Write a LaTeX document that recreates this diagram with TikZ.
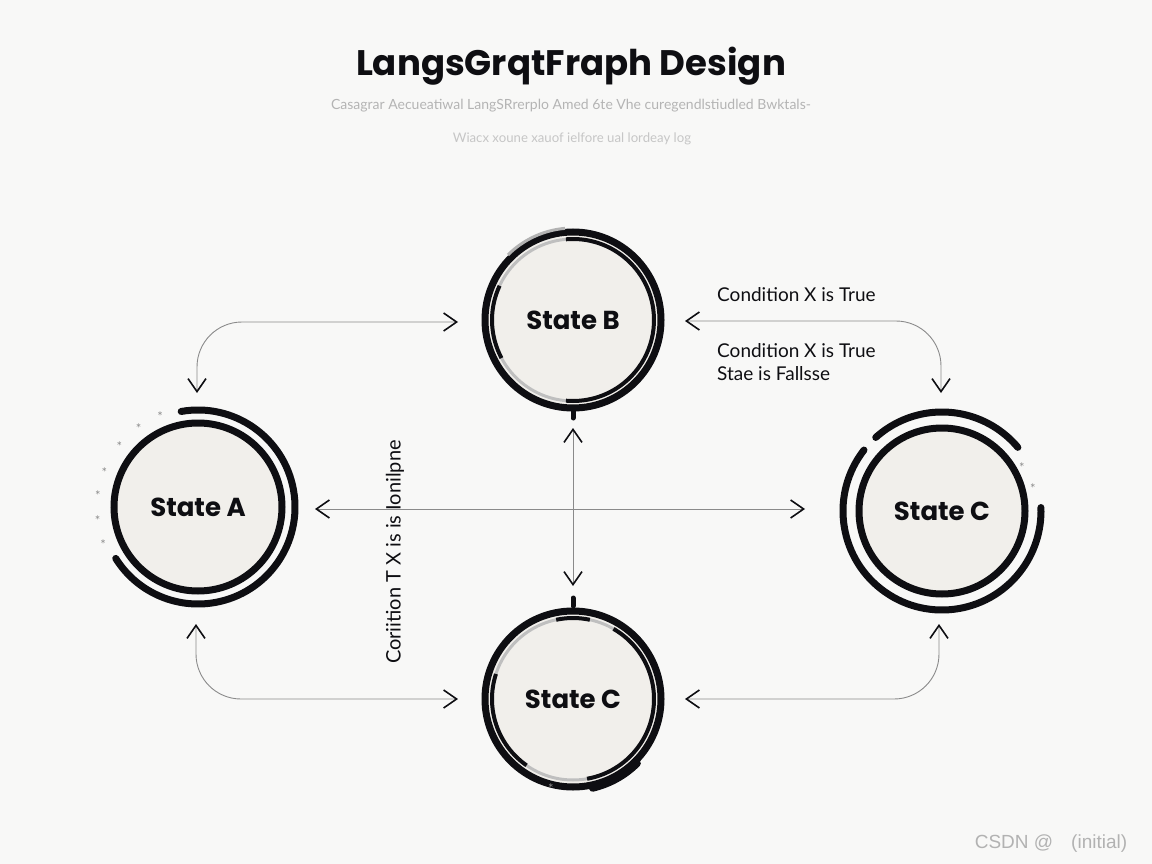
\documentclass[tikz,border=0pt]{standalone}
\usepackage{fontspec}
\setmainfont{Lato}
\newfontfamily\pop{Poppins}
\newfontfamily\lib{Liberation Sans}
\usetikzlibrary{arrows.meta,calc}
\definecolor{bg}{HTML}{F8F8F7}
\definecolor{fillc}{HTML}{F1EFEB}
\definecolor{ink}{HTML}{0E0E12}
\definecolor{conn}{HTML}{8A8A8A}
\definecolor{sub}{HTML}{B4B4B4}
\definecolor{sub2}{HTML}{C6C6C6}
\tikzset{
  statebox/.style={circle, fill=fillc, draw=ink, line width=7pt, minimum size=172pt, inner sep=0pt, font=\pop\bfseries\fontsize{26}{30}\selectfont, text=ink},
  ring/.style={draw=ink, line width=7pt, line cap=round},
  innerarc/.style={draw=ink, line width=4pt},
  greyarc/.style={draw=black!25, line width=3pt},
  conn/.style={draw=conn, line width=0.9pt, rounded corners=45pt,
    {Straight Barb[length=13pt,width=18pt,line width=1.6pt,color=ink]}-{Straight Barb[length=13pt,width=18pt,line width=1.6pt,color=ink]}},
  lbl/.style={font=\fontsize{19}{23}\selectfont, text=ink, inner sep=0pt, anchor=west},
  star/.style={font=\fontsize{13}{13}\selectfont, text=black!45, inner sep=0pt}
}
\begin{document}
\begin{tikzpicture}[x=1pt,y=1pt]
\fill[bg] (0,0) rectangle (1152,-864);
\useasboundingbox (0,0) rectangle (1152,-864);

% title
\node[font=\pop\bfseries\fontsize{35.5}{42}\selectfont, text=ink] (title) at (571,-66) {LangsGrqtFraph Design};
\node[font=\fontsize{14}{17}\selectfont, text=sub] (sub1) at (571,-106) {Casagrar Aecueatiwal LangSRrerplo Amed 6te Vhe curegendlstiudled Bwktals-};
\node[font=\fontsize{13.2}{16}\selectfont, text=sub2] (sub2) at (572,-139) {Wiacx xoune xauof ielfore ual lordeay log};

% State A
\node[statebox, minimum size=168pt] (A) at (198,-507) {State A};
\draw[ring] (198,-507) ++(100:97) arc[start angle=100, end angle=-148, radius=97];
\foreach \a in {112,126,141,158,172,186,200}
  \node[star] at ($(198,-510)+(\a:101)$) {*};

% State B
\node[statebox, minimum size=176pt] (B) at (573,-320) {State B};
\draw[greyarc] (573,-320) circle[radius=81];
\draw[innerarc] (573,-320) ++(95:81) arc[start angle=95, end angle=-95, radius=81];
\draw[innerarc] (573,-320) ++(155:81) arc[start angle=155, end angle=208, radius=81];
\draw[draw=black!30, line width=3pt] (573,-320) ++(135:92) arc[start angle=135, end angle=95, radius=92];
\draw[ink, line width=5pt, line cap=round] (573,-410) -- (573,-418);

% State C (bottom)
\node[statebox, minimum size=176pt] (C2) at (573,-699) {State C};
\draw[greyarc] (573,-699) circle[radius=81];
\draw[innerarc] (573,-699) ++(60:81) arc[start angle=60, end angle=-80, radius=81];
\draw[innerarc] (573,-699) ++(162:81) arc[start angle=162, end angle=235, radius=81];
\draw[innerarc] (573,-699) ++(102:81) arc[start angle=102, end angle=78, radius=81];
\draw[ring] (573,-699) ++(-45:91) arc[start angle=-45, end angle=-77, radius=93];
\draw[ink, line width=5pt, line cap=round] (573,-598) -- (573,-606);
\node[star] at (551,-789) {*};

% State C (right)
\node[statebox, minimum size=166pt] (C1) at (942,-511) {State C};
\draw[ring] (942,-511) ++(142:99) arc[start angle=142, end angle=362, radius=99];
\draw[ring] (942,-511) ++(132:99) arc[start angle=132, end angle=40, radius=99];
\node[star] at (1022,-468) {*};
\node[star] at (1033,-489) {*};

% connector end points
\coordinate (a1) at (197,-393);
\coordinate (b1) at (458,-322);
\coordinate (a2) at (196,-624);
\coordinate (b2) at (458,-699);
\coordinate (b3) at (685,-321);
\coordinate (c3) at (941,-393);
\coordinate (c4) at (685,-699);
\coordinate (d4) at (939,-624);
\coordinate (m1) at (315,-509);
\coordinate (m2) at (805,-509);
\coordinate (v1) at (573,-428);
\coordinate (v2) at (573,-586);

\draw[conn] (a1) |- (b1);
\draw[conn] (a2) |- (b2);
\draw[conn] (b3) -| (c3);
\draw[conn] (c4) -| (d4);
\draw[conn] (m1) -- (m2);
\draw[conn] (v1) -- (v2);

% labels
\node[lbl] (l1) at (717,-295) {Condition X is True};
\node[lbl] (l2) at (717,-351) {Condition X is True};
\node[lbl] (l3) at (717,-374) {Stae is Fallsse};
\node[font=\fontsize{20}{24}\selectfont, text=ink, rotate=90, inner sep=0pt] (l4) at (395,-552) {Coriition T X is is Ionilpne};

% watermark
\node[font=\lib\fontsize{19}{22}\selectfont, text=black!30, inner sep=0pt] (wm) at (1051,-844) {CSDN @\hspace{18pt}(initial)};
\end{tikzpicture}
\end{document}
